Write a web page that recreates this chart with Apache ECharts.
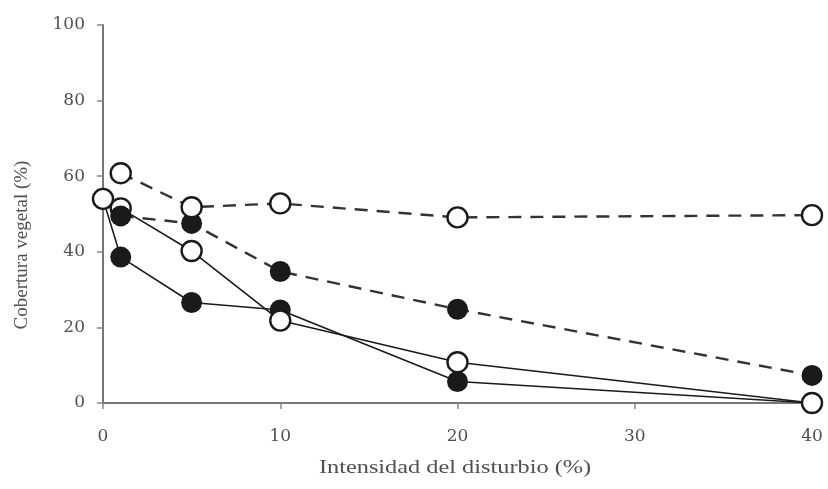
<!DOCTYPE html>
<html>
<head>
<meta charset="utf-8">
<script src="https://cdn.jsdelivr.net/npm/echarts@6/dist/echarts.min.js"></script>
<style>
  html, body { margin: 0; padding: 0; background: #fff; }
  #chart { width: 828px; height: 489px; }
</style>
</head>
<body>
<div id="chart"></div>
<script>
// Disturbance intensity (%) on x, vegetation cover (%) on y
const xTicks = [0, 10, 20, 30, 40];
const yTicks = [0, 20, 40, 60, 80, 100];

// Solid line, filled markers
const filledSolidX = [0, 1, 5, 10, 20, 40];
const filledSolidY = [54, 38.6, 26.6, 24.6, 5.7, 0];

// Solid line, open markers
const openSolidX = [0, 1, 5, 10, 20, 40];
const openSolidY = [54, 51.5, 40.2, 21.8, 10.8, 0];

// Dashed line, filled markers
const filledDashedX = [1, 5, 10, 20, 40];
const filledDashedY = [49.5, 47.5, 34.8, 24.8, 7.3];

// Dashed line, open markers
const openDashedX = [1, 5, 10, 20, 40];
const openDashedY = [60.8, 51.8, 52.8, 49.1, 49.7];

const pairs = (xs, ys) => xs.map((x, i) => [x, ys[i]]);

const ink = '#1a1a1a';
const serif = '"Liberation Serif", "DejaVu Serif", serif';
const wideSerif = '"DejaVu Serif", "Liberation Serif", serif';
const textGrey = '#505050';

function lineSeries(xs, ys, dashed, open) {
  return {
    type: 'line',
    data: pairs(xs, ys),
    symbol: 'circle',
    symbolSize: open ? 20 : 21,
    showSymbol: true,
    animation: false,
    lineStyle: {
      color: dashed ? '#333' : ink,
      width: dashed ? 2.4 : 1.6,
      type: dashed ? [13, 9] : 'solid'
    },
    itemStyle: open
      ? { color: '#fff', borderColor: ink, borderWidth: 2.4 }
      : { color: ink, borderColor: ink, borderWidth: 0 }
  };
}

const chart = echarts.init(document.getElementById('chart'));
chart.setOption({
  backgroundColor: '#fff',
  animation: false,
  grid: { left: 103, right: 16, top: 25, bottom: 86 },
  xAxis: {
    type: 'value',
    min: xTicks[0],
    max: xTicks[xTicks.length - 1],
    interval: 10,
    axisLine: { onZero: false, lineStyle: { color: '#777', width: 2 } },
    axisTick: { show: true, length: 6, lineStyle: { color: '#888', width: 1.5 } },
    axisLabel: { margin: 25, fontFamily: wideSerif, fontSize: 17, color: textGrey,
                 formatter: v => xTicks.includes(v) ? String(v) : '' },
    splitLine: { show: false }
  },
  yAxis: {
    type: 'value',
    min: yTicks[0],
    max: yTicks[yTicks.length - 1],
    interval: 20,
    axisLine: { show: true, onZero: false, lineStyle: { color: '#777', width: 2 } },
    axisTick: { show: true, length: 6, lineStyle: { color: '#888', width: 1.5 } },
    axisLabel: { margin: 18, fontFamily: wideSerif, fontSize: 17, color: textGrey,
                 formatter: v => yTicks.includes(v) ? String(v) : '' },
    splitLine: { show: false }
  },
  graphic: [{
    // y-axis title, reading bottom to top
    type: 'text',
    x: 22,
    y: 245,
    rotation: Math.PI / 2,
    style: {
      text: 'Cobertura vegetal (%)',
      fontFamily: serif,
      fontSize: 19,
      fill: textGrey,
      textAlign: 'center',
      textVerticalAlign: 'middle'
    }
  }, {
    // x-axis title, set a little wide
    type: 'text',
    x: 455,
    y: 468,
    scaleX: 1.28,
    style: {
      text: 'Intensidad del disturbio (%)',
      fontFamily: serif,
      fontSize: 19,
      fill: textGrey,
      textAlign: 'center',
      textVerticalAlign: 'middle'
    }
  }],
  series: [
    lineSeries(filledSolidX, filledSolidY, false, false),
    lineSeries(openSolidX, openSolidY, false, true),
    lineSeries(filledDashedX, filledDashedY, true, false),
    lineSeries(openDashedX, openDashedY, true, true)
  ]
});
</script>
</body>
</html>
